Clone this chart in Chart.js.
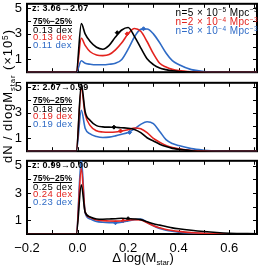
<!DOCTYPE html>
<html>
<head>
<meta charset="utf-8">
<script src="https://cdn.jsdelivr.net/npm/chart.js@4.4.1/dist/chart.umd.min.js"></script>
<style>
  body { margin: 0; width: 262px; height: 267px; overflow: hidden; background: #fff; position: relative;
         font-family: "Liberation Sans", Arial, sans-serif; color: #000; }
  canvas { position: absolute; left: 0; }
  .t { position: absolute; white-space: nowrap; line-height: 1; }
  .sup { font-size: 0.65em; position: relative; top: -0.5em; }
  .sub { font-size: 0.6em; position: relative; top: 0.35em; }
</style>
</head>
<body>
<canvas id="p0" width="262" height="94" style="top:-9px;width:262px;height:94px"></canvas>
<canvas id="p1" width="262" height="94" style="top:70px;width:262px;height:94px"></canvas>
<canvas id="p2" width="262" height="119" style="top:148px;width:262px;height:119px"></canvas>
<div id="labels"></div>
<script>
const dx = [-0.2, -0.005, 0.015, 0.03, 0.05, 0.075, 0.1, 0.125, 0.15, 0.175, 0.2, 0.225, 0.25, 0.275, 0.3, 0.325, 0.35, 0.375, 0.4, 0.45, 0.5, 0.55, 0.6, 0.71];

// z: 3.06 -> 2.07
const topBlack = [0, 0, 3.8, 3.0, 2.4, 1.95, 1.8, 2.1, 2.75, 3.3, 3.5, 2.8, 1.9, 1.05, 0.6, 0.33, 0.2, 0.11, 0.06, 0.02, 0, 0, 0, 0];
const topRed = [0, 0, 2.65, 2.1, 1.6, 1.35, 1.3, 1.38, 1.75, 2.3, 3.0, 3.42, 3.2, 2.4, 1.45, 0.7, 0.4, 0.22, 0.12, 0.03, 0, 0, 0, 0];
const topBlue = [0, 0, 0.9, 0.7, 0.62, 0.58, 0.58, 0.62, 0.7, 1.0, 1.8, 2.75, 3.35, 3.38, 3.0, 2.3, 1.5, 0.9, 0.6, 0.2, 0.06, 0.01, 0, 0];

// z: 2.07 -> 0.99
const midBlack = [0, 0, 5.25, 3.1, 2.4, 2.0, 1.9, 1.88, 1.87, 1.83, 1.8, 1.7, 1.45, 1.05, 0.8, 0.55, 0.36, 0.22, 0.15, 0.04, 0, 0, 0, 0];
const midRed = [0, 0, 4.9, 2.9, 2.0, 1.6, 1.5, 1.48, 1.5, 1.58, 1.68, 1.82, 1.75, 1.45, 1.0, 0.7, 0.44, 0.28, 0.18, 0.05, 0.01, 0, 0, 0];
const midBlue = [0, 0, 3.2, 1.8, 1.35, 1.15, 1.07, 1.1, 1.2, 1.33, 1.47, 1.75, 2.1, 2.3, 2.15, 1.55, 0.9, 0.6, 0.44, 0.2, 0.08, 0.01, 0, 0];

// z: 0.99 -> 0.00
const botBlack = [0, 0, 3.6, 1.6, 1.25, 1.1, 1.08, 1.1, 1.12, 1.15, 1.12, 1.1, 1.05, 0.9, 0.75, 0.65, 0.55, 0.45, 0.38, 0.27, 0.18, 0.11, 0.06, 0.01];
const botRed = [0, 0, 4.8, 1.6, 1.2, 1.02, 0.98, 0.95, 0.94, 0.95, 1.0, 1.05, 1.02, 0.82, 0.6, 0.45, 0.33, 0.25, 0.19, 0.1, 0.05, 0.02, 0.01, 0];
const botBlue = [0, 0, 5.5, 1.55, 1.1, 0.92, 0.86, 0.83, 0.82, 0.86, 0.95, 1.05, 1.1, 0.85, 0.6, 0.4, 0.28, 0.2, 0.14, 0.07, 0.03, 0.01, 0, 0];

// small markers sitting on the curves (black, red, blue)
const topMarkX = [0.157, 0.196, 0.261];
const topMarkY = [3.09, 3.0, 3.4];
const midMarkX = [0.144, 0.17, 0.206];
const midMarkY = [1.88, 1.58, 1.47];
const botMarkX = [0.2, 0.18, 0.15];
const botMarkY = [1.12, 0.96, 0.82];

const zLabels = ['z: 3.06\u21922.07', 'z: 2.07\u21920.99', 'z: 0.99\u21920.00'];
const dexBlack = ['0.13', '0.18', '0.25'];
const dexRed = ['0.13', '0.19', '0.24'];
const dexBlue = ['0.11', '0.19', '0.23'];
const legendN = ['5', '2', '8'];
const legendExp = ['\u22125', '\u22124', '\u22124'];

const xTickVals = [-0.2, 0, 0.2, 0.4, 0.6];
const xMinorVals = [-0.2, -0.1, 0, 0.1, 0.2, 0.3, 0.4, 0.5, 0.6, 0.7];
const yTickVals = [1, 3, 5];
const yMinorVals = [1, 2, 3, 4, 5];

const colors = ['#000000', '#e3231e', '#2f6bc6'];
const fontFamily = '"Liberation Sans", Arial, sans-serif';
const areaTops = [-1, 78, 156];

const framePlugin = {
    id: 'frame',
    beforeDatasetsDraw(chart) {
        const { ctx, chartArea: a, scales: { x, y } } = chart;
        ctx.save();
        ctx.strokeStyle = '#000';
        ctx.lineWidth = 2;
        ctx.strokeRect(a.left, a.top, a.right - a.left, a.bottom - a.top);
        ctx.beginPath();
        xMinorVals.forEach((v) => {
            const px = Math.round(x.getPixelForValue(v)) + 0.5;
            ctx.moveTo(px, a.bottom);
            ctx.lineTo(px, a.bottom - 4);
            ctx.moveTo(px, a.top);
            ctx.lineTo(px, a.top + 4);
        });
        yMinorVals.forEach((v) => {
            const py = Math.round(y.getPixelForValue(v)) + 0.5;
            ctx.moveTo(a.left, py);
            ctx.lineTo(a.left + 4, py);
            ctx.moveTo(a.right, py);
            ctx.lineTo(a.right - 4, py);
        });
        ctx.lineWidth = 1;
        ctx.stroke();
        ctx.restore();
    },
};

const toPoints = (xs, ys) => xs.map((x, i) => ({ x, y: ys[i] }));

const makePanel = (id, series, markX, markY, showX) => {
    const datasets = series.map((values, i) => ({
        data: toPoints(dx, values),
        borderColor: colors[i],
        borderWidth: 1.6,
        pointRadius: 0,
        cubicInterpolationMode: 'monotone',
        fill: false,
    }));
    markX.forEach((mx, i) => {
        datasets.push({
            type: 'scatter',
            data: [{ x: mx, y: markY[i] }],
            pointStyle: 'rectRot',
            pointRadius: 2,
            backgroundColor: colors[i],
            borderColor: colors[i],
            borderWidth: 1,
        });
    });

    return new Chart(document.getElementById(id), {
        type: 'line',
        data: { datasets },
        plugins: [framePlugin],
        options: {
            responsive: false,
            devicePixelRatio: 1,
            animation: false,
            events: [],
            layout: { padding: { top: 8, bottom: showX ? 0 : 8, left: 0, right: 2 } },
            plugins: { legend: { display: false }, tooltip: { enabled: false } },
            scales: {
                x: {
                    type: 'linear',
                    min: -0.2,
                    max: 0.71,
                    display: showX,
                    afterBuildTicks(scale) {
                        scale.ticks = xTickVals.map((value) => ({ value }));
                    },
                    afterFit(scale) {
                        scale.height = showX ? 33 : 0;
                    },
                    grid: { display: false, drawTicks: false },
                    border: { display: false },
                    ticks: {
                        color: '#000',
                        padding: 7,
                        maxRotation: 0,
                        autoSkip: false,
                        font: { family: fontFamily, size: 13 },
                        callback(value) {
                            const text = Math.abs(value).toFixed(1);
                            return value < 0 ? '\u2212' + text : text;
                        },
                    },
                },
                y: {
                    type: 'linear',
                    min: 0,
                    max: 5.35,
                    afterBuildTicks(scale) {
                        scale.ticks = yTickVals.map((value) => ({ value }));
                    },
                    afterFit(scale) {
                        scale.width = 27;
                    },
                    grid: { display: false, drawTicks: false },
                    border: { display: false },
                    ticks: {
                        color: '#000',
                        padding: 5,
                        font: { family: fontFamily, size: 13 },
                    },
                },
            },
        },
    });
};

makePanel('p0', [topBlack, topRed, topBlue], topMarkX, topMarkY, false);
makePanel('p1', [midBlack, midRed, midBlue], midMarkX, midMarkY, false);
makePanel('p2', [botBlack, botRed, botBlue], botMarkX, botMarkY, true);

// text overlays
const labels = document.getElementById('labels');
const addText = (html, css) => {
    const el = document.createElement('div');
    el.className = 't';
    el.innerHTML = html;
    Object.assign(el.style, css);
    labels.appendChild(el);
    return el;
};

areaTops.forEach((top, i) => {
    addText(zLabels[i], { left: '32px', top: (top + 4.5) + 'px', fontSize: '9px', fontWeight: 'bold',
        letterSpacing: '0.2px' });
    addText('75%\u221225%', { left: '33px', top: (top + 18) + 'px', fontSize: '8.5px', fontWeight: 'bold',
        textDecoration: 'underline' });
    [dexBlack, dexRed, dexBlue].forEach((dex, k) => {
        addText(dex[i] + ' dex', { left: '33px', top: (top + 25.8 + k * 7.6) + 'px', fontSize: '9.5px',
            letterSpacing: '0.4px', color: colors[k] });
    });
});

legendN.forEach((n, k) => {
    addText(`n=${n} \u00d7 10<span class="sup">${legendExp[k]}</span> Mpc<span class="sup">\u22123</span>`,
        { right: '4px', top: (7.5 + k * 9.3) + 'px', fontSize: '10px', letterSpacing: '0.4px', color: colors[k] });
});

addText('\u0394 log(M<span class="sub">star</span>)', { left: '143px', top: '251px', fontSize: '13px',
    transform: 'translateX(-50%)' });
addText('dN / dlogM<span class="sub">star</span> (\u00d710<span class="sup">5</span>)',
    { left: '7px', top: '96px', fontSize: '13px', letterSpacing: '0.9px',
      transform: 'translate(-50%, -50%) rotate(-90deg)' });
</script>
</body>
</html>
